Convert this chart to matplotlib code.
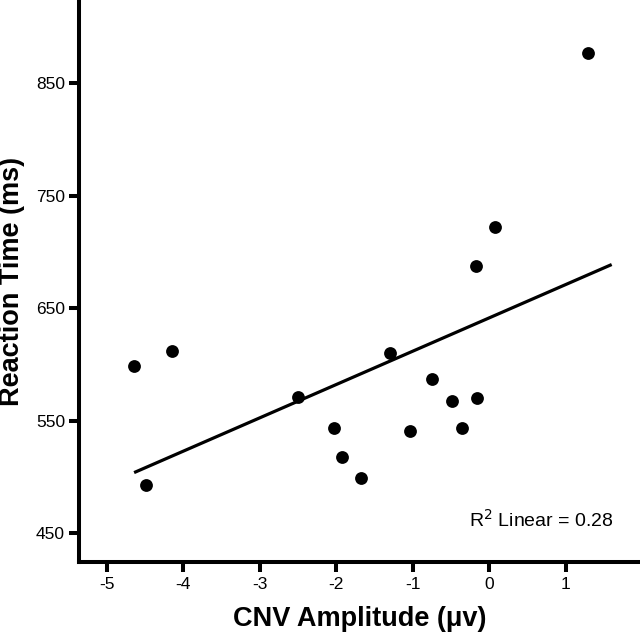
import numpy as np
import matplotlib
matplotlib.use("Agg")
import matplotlib.pyplot as plt

plt.rcParams['font.family'] = ['Liberation Sans', 'DejaVu Sans']

cnv_amplitude = [-4.64, -4.49, -4.15, -2.50, -2.03, -1.93, -1.68, -1.30,
                 -1.03, -0.75, -0.49, -0.36, -0.16, -0.175, 0.08, 1.29]
reaction_time = [599, 493, 612, 571, 544, 518, 499, 610,
                 541, 587, 568, 544, 570, 688, 722, 877]
fit_x_range = [-4.64, 1.60]
x_ticks = [-5, -4, -3, -2, -1, 0, 1]
y_ticks = [450, 550, 650, 750, 850]
r2_label = "R$^2$ Linear = 0.28"

W, H = 640, 636
fig = plt.figure(figsize=(W / 100, H / 100), dpi=100)
ax = fig.add_axes([79 / W, 74 / H, 1 - 79 / W, 1 - 74 / H])

ax.scatter(cnv_amplitude, reaction_time, s=85, color='black', zorder=3, linewidths=0)
slope, intercept = np.polyfit(cnv_amplitude, reaction_time, 1)
fx = np.array(fit_x_range)
ax.plot(fx, slope * fx + intercept, color='black', lw=2.3, solid_capstyle='butt')

ax.set_xlim(-5.36, 1.97)
ax.set_ylim(424.5, 924)
ax.set_xticks(x_ticks)
ax.set_xticklabels([str(t) for t in x_ticks])
ax.set_yticks(y_ticks)
ax.set_yticklabels([str(t) for t in y_ticks])

for s in ['top', 'right']:
    ax.spines[s].set_visible(False)
for s in ['left', 'bottom']:
    ax.spines[s].set_linewidth(2.9)
ax.tick_params(axis='both', length=7, width=2.9, labelsize=12.5, color='black')
ax.tick_params(axis='x', pad=4)
ax.tick_params(axis='y', pad=3)

ax.set_xlabel("CNV Amplitude (μv)", fontsize=19.5, fontweight='bold', labelpad=10)
ax.set_ylabel("Reaction Time (ms)", fontsize=19.5, fontweight='bold', labelpad=8)

fig.text(614 / W, 1 - 520 / H, r2_label, fontsize=14, ha='right', va='center')

fig.savefig("out.png", dpi=100)
